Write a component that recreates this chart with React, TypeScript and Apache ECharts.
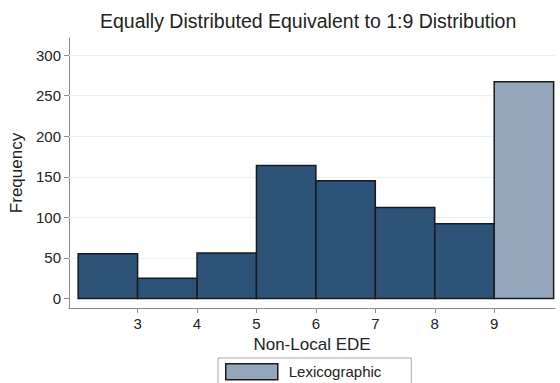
import React, { useEffect, useRef } from "react";
import * as echarts from "echarts";

const binEdges = [2, 3, 4, 5, 6, 7, 8, 9, 10];
const nonLexFrequency = [55, 25, 56, 164, 145, 112, 92];
const lexicographicFrequency = [267];
const xTickValues = [3, 4, 5, 6, 7, 8, 9];
const yTickValues = [0, 50, 100, 150, 200, 250, 300];

const titleText = "Equally Distributed Equivalent to 1:9 Distribution";
const xTitle = "Non-Local EDE";
const yTitle = "Frequency";
const legendName = "Lexicographic";

const FONT = "Liberation Sans, Arial, sans-serif";

export default function App() {
  const ref = useRef<HTMLDivElement>(null);

  useEffect(() => {
    if (!ref.current) return;
    const chart = echarts.init(ref.current, undefined, { renderer: "svg" });

    const darkData = nonLexFrequency.map((f, i) => [binEdges[i], binEdges[i + 1], f]);
    const lexData = lexicographicFrequency.map((f, i) => [
      binEdges[nonLexFrequency.length + i],
      binEdges[nonLexFrequency.length + i + 1],
      f,
    ]);

    const renderBar = (color: string) => (params: any, api: any) => {
      const x0 = api.value(0);
      const x1 = api.value(1);
      const h = api.value(2);
      const p0 = api.coord([x0, h]);
      const p1 = api.coord([x1, 0]);
      return {
        type: "rect",
        shape: { x: p0[0], y: p0[1], width: p1[0] - p0[0], height: p1[1] - p0[1] },
        style: { fill: color, stroke: "#1a1a1a", lineWidth: 1.5 },
      };
    };

    chart.setOption({
      animation: false,
      backgroundColor: "#ffffff",
      textStyle: { fontFamily: FONT },
      title: {
        text: titleText,
        left: 95,
        top: 6,
        textStyle: { fontFamily: FONT, fontSize: 19.5, fontWeight: "normal", color: "#222" },
      },
      grid: { left: 66, right: 5, top: 38, bottom: 75, containLabel: false },
      legend: {
        data: [legendName],
        left: 218,
        top: 358,
        orient: "horizontal",
        icon: "rect",
        itemWidth: 52,
        itemHeight: 16,
        padding: [5, 30, 20, 7],
        borderColor: "#a8a8a8",
        borderWidth: 1,
        backgroundColor: "#fff",
        itemStyle: { borderColor: "#1a1a1a", borderWidth: 1.5 },
        textStyle: { fontFamily: FONT, fontSize: 15, color: "#222", padding: [0, 0, 0, 6] },
      },
      xAxis: {
        type: "value",
        min: 1.846,
        max: 10.023,
        name: xTitle,
        nameLocation: "middle",
        nameGap: 26,
        nameTextStyle: { fontFamily: FONT, fontSize: 17, color: "#222" },
        axisLine: { show: true, onZero: false, lineStyle: { color: "#8a8a8a", width: 1 } },
        axisTick: { show: true, customValues: xTickValues, length: 5, lineStyle: { color: "#8a8a8a" } },
        axisLabel: { customValues: xTickValues, margin: 8, fontFamily: FONT, fontSize: 15, color: "#222" },
        splitLine: { show: false },
      },
      yAxis: {
        type: "value",
        min: -11.7,
        max: 321,
        name: yTitle,
        nameLocation: "middle",
        nameGap: 44,
        nameTextStyle: { fontFamily: FONT, fontSize: 17, color: "#222" },
        axisLine: { show: true, onZero: false, lineStyle: { color: "#8a8a8a", width: 1 } },
        axisTick: { show: true, customValues: yTickValues, length: 5, lineStyle: { color: "#8a8a8a" } },
        axisLabel: { customValues: yTickValues, margin: 8, fontFamily: FONT, fontSize: 15, color: "#222" },
        splitLine: { show: false },
      },
      series: [
        {
          type: "custom",
          name: "NonLex",
          renderItem: renderBar("#2e5379"),
          encode: { x: [0, 1], y: 2 },
          data: darkData,
          itemStyle: { color: "#2e5379" },
          z: 3,
          markLine: {
            silent: true,
            symbol: "none",
            label: { show: false },
            lineStyle: { color: "#e8f1f3", width: 1, type: "solid" },
            data: yTickValues.filter((v) => v > 0).map((v) => ({ yAxis: v })),
            z: 1,
          },
        },
        {
          type: "custom",
          name: legendName,
          renderItem: renderBar("#94a6bc"),
          encode: { x: [0, 1], y: 2 },
          data: lexData,
          itemStyle: { color: "#94a6bc", borderColor: "#1a1a1a", borderWidth: 1.5 },
          z: 3,
        },
      ],
    });

    return () => chart.dispose();
  }, []);

  return (
    <div
      ref={ref}
      style={{ position: "fixed", left: 0, top: 0, width: 560, height: 383 }}
    />
  );
}
